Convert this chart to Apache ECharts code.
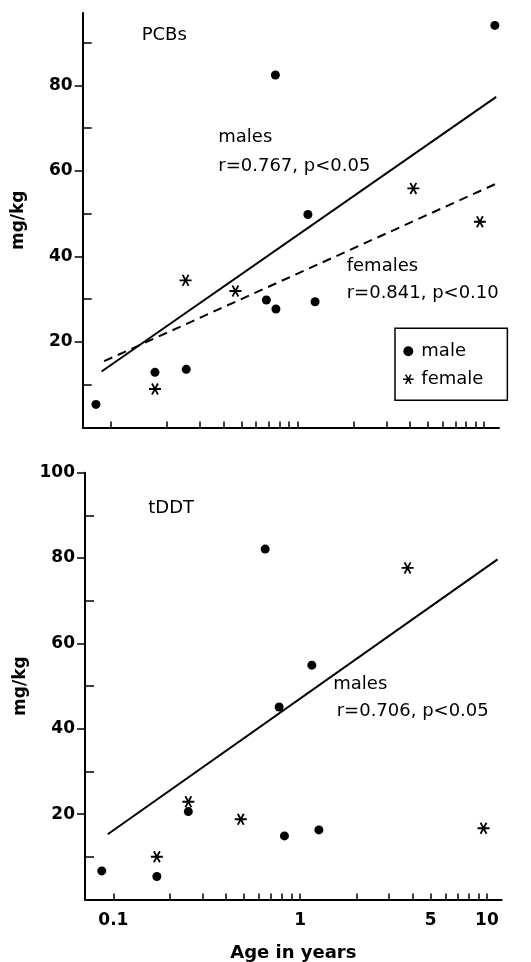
<!DOCTYPE html>
<html>
<head>
<meta charset="utf-8">
<script src="https://cdn.jsdelivr.net/npm/echarts@6/dist/echarts.min.js"></script>
<style>html,body{margin:0;padding:0;background:#fff}#c{width:531px;height:962px}</style>
</head>
<body>
<div id="c"></div>
<script>
// ---- data ----
const pcbMaleAge   = [0.083, 0.172, 0.253, 0.68, 0.765, 0.76, 1.135, 1.24, 11.4];
const pcbMaleVal   = [5.4, 12.9, 13.6, 29.8, 27.7, 82.4, 49.8, 29.4, 94.0];
const pcbFemaleAge = [0.172, 0.251, 0.464, 4.17, 9.48];
const pcbFemaleVal = [9.0, 34.4, 31.9, 55.9, 48.1];
const pcbMaleFitAge = [0.089, 11.6];
const pcbMaleFitVal = [13.1, 77.3];
const pcbFemaleFitAge = [0.0918, 11.6];
const pcbFemaleFitVal = [15.5, 57.0];

const ddtMaleAge   = [0.0867, 0.171, 0.252, 0.65, 0.772, 0.824, 1.155, 1.26, 11.5];
const ddtMaleVal   = [6.7, 5.4, 20.6, 82.1, 45.1, 14.9, 54.9, 16.3, 100.2];
const ddtFemaleAge = [0.171, 0.252, 0.481, 3.76, 9.59];
const ddtFemaleVal = [10.0, 22.9, 18.8, 77.7, 16.7];
const ddtMaleFitAge = [0.0933, 11.4];
const ddtMaleFitVal = [15.3, 79.7];

const xTickValues  = [0.1,0.2,0.3,0.4,0.5,0.6,0.7,0.8,0.9,1,2,3,4,5,6,7,8,9,10];
const xLabelValues = [0.1, 1, 5, 10];
const yMajorValues = [20, 40, 60, 80];
const yMinorTop    = [10, 30, 50, 70, 90];
const yMajorBottom = [20, 40, 60, 80, 100];
const yMinorBottom = [10, 30, 50, 70, 90];

const zip = (a, b) => a.map((v, i) => [v, b[i]]);

const FONT = 'DejaVu Sans';
const STAR = 'path://M0 4.25 L10 4.25 L10 5.75 L0 5.75 Z M1.85 1.045 L3.15 0.295 L8.15 8.955 L6.85 9.705 Z M3.15 9.705 L1.85 8.955 L6.85 0.295 L8.15 1.045 Z';

const tickLabelStyle = { color: '#000', fontFamily: FONT, fontWeight: 'bold', fontSize: 17 };

function xAxis(grid, showLabels, name) {
  return {
    type: 'log', gridIndex: grid, min: 0.0705, max: 12.0, logBase: 10,
    axisLine: { show: true, onZero: false, lineStyle: { color: '#000', width: 2 } },
    axisTick: { show: true, inside: true, length: 6, lineStyle: { color: '#000', width: 1.5 }, customValues: xTickValues },
    axisLabel: { show: showLabels, customValues: xLabelValues, margin: 13, ...tickLabelStyle,
      formatter: v => { const r = +(+v).toPrecision(6); return String(r); } },
    splitLine: { show: false }, minorTick: { show: false },
    name: name || '', nameLocation: 'middle', nameGap: 44.5,
    nameTextStyle: { color: '#000', fontFamily: FONT, fontWeight: 'bold', fontSize: 18 }
  };
}
function yMajor(grid, max, values) {
  return {
    type: 'value', gridIndex: grid, min: 0, max: max,
    axisLine: { show: true, onZero: false, lineStyle: { color: '#000', width: 2 } },
    axisTick: { show: true, inside: false, length: 8, lineStyle: { color: '#000', width: 1.5 }, customValues: values },
    axisLabel: { show: true, customValues: values, margin: 10, ...tickLabelStyle },
    splitLine: { show: false },
    name: 'mg/kg', nameLocation: 'middle', nameGap: 56, nameRotate: 90,
    nameTextStyle: { color: '#000', fontFamily: FONT, fontWeight: 'bold', fontSize: 17 }
  };
}
function yMinor(grid, max, values) {
  return {
    type: 'value', gridIndex: grid, min: 0, max: max, position: 'left',
    axisLine: { show: false },
    axisTick: { show: true, inside: true, length: 9, lineStyle: { color: '#000', width: 1.5 }, customValues: values },
    axisLabel: { show: false, customValues: values },
    splitLine: { show: false }
  };
}
function dots(name, xi, yi, data) {
  return { type: 'scatter', name, xAxisIndex: xi, yAxisIndex: yi, data, symbol: 'circle', symbolSize: 9,
    itemStyle: { color: '#000', opacity: 1 }, silent: true };
}
function stars(name, xi, yi, data) {
  return { type: 'scatter', name, xAxisIndex: xi, yAxisIndex: yi, data, symbol: STAR, symbolSize: 12,
    itemStyle: { color: '#000', opacity: 1 }, silent: true };
}
function fit(name, xi, yi, data, dashed) {
  return { type: 'line', name, xAxisIndex: xi, yAxisIndex: yi, data, symbol: 'none', silent: true,
    lineStyle: { color: '#000', width: 2, type: dashed ? [9, 6] : 'solid' } };
}
function txt(x, y, s) {
  return { type: 'text', left: x, top: y, style: { text: s, fill: '#000', font: '18px "DejaVu Sans"', textVerticalAlign: 'middle' }, silent: true };
}

const chart = echarts.init(document.getElementById('c'), null, { renderer: 'canvas' });
chart.setOption({
  animation: false,
  backgroundColor: '#fff',
  grid: [
    { left: 82.7, top: 13, width: 416.3, height: 414.5, outerBoundsMode: 'none', containLabel: false },
    { left: 85, top: 472.7, width: 416.7, height: 426.8, outerBoundsMode: 'none', containLabel: false }
  ],
  xAxis: [ xAxis(0, false), xAxis(1, true, 'Age in years') ],
  yAxis: [ yMajor(0, 96.9, yMajorValues), yMinor(0, 96.9, yMinorTop),
           yMajor(1, 100, yMajorBottom), yMinor(1, 100, yMinorBottom) ],
  legend: {
    data: [{ name: 'male', icon: 'circle' }, { name: 'female', icon: STAR }],
    orient: 'vertical', left: 395, top: 328.3,
    itemWidth: 16, itemHeight: 10, itemGap: 10,
    padding: [14, 24, 12, 8],
    borderColor: '#000', borderWidth: 1.5, borderRadius: 0,
    textStyle: { color: '#000', fontFamily: FONT, fontSize: 18 },
    itemStyle: { opacity: 1 },
    selectedMode: false
  },
  series: [
    dots('male', 0, 0, zip(pcbMaleAge, pcbMaleVal)),
    stars('female', 0, 0, zip(pcbFemaleAge, pcbFemaleVal)),
    fit('PCB males fit', 0, 0, zip(pcbMaleFitAge, pcbMaleFitVal), false),
    fit('PCB females fit', 0, 0, zip(pcbFemaleFitAge, pcbFemaleFitVal), true),
    dots('male', 1, 2, zip(ddtMaleAge, ddtMaleVal)),
    stars('female', 1, 2, zip(ddtFemaleAge, ddtFemaleVal)),
    fit('tDDT males fit', 1, 2, zip(ddtMaleFitAge, ddtMaleFitVal), false)
  ],
  graphic: [
    txt(141.7, 36.7 - 10.5, 'PCBs'),
    txt(218.3, 139 - 10.5, 'males'),
    txt(218.3, 168 - 10.5, 'r=0.767, p<0.05'),
    txt(346.7, 268.3 - 10.5, 'females'),
    txt(346.7, 295 - 10.5, 'r=0.841, p<0.10'),
    txt(148.3, 509.7 - 10.5, 'tDDT'),
    txt(333.3, 686.3 - 10.5, 'males'),
    txt(336.7, 713 - 10.5, 'r=0.706, p<0.05')
  ]
});
</script>
</body>
</html>
